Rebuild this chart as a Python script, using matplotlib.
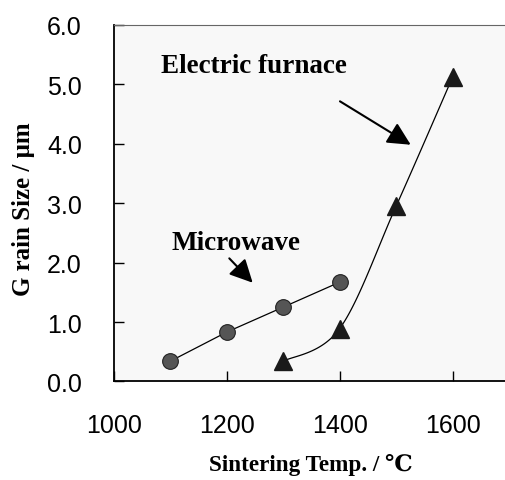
import matplotlib
matplotlib.use('Agg')
import matplotlib.pyplot as plt
import numpy as np

# data
temp_mw = [1100, 1200, 1300, 1400]
size_mw = [0.34, 0.83, 1.25, 1.67]
temp_ef = [1300, 1400, 1500, 1600]
size_ef = [0.34, 0.89, 2.95, 5.12]

x_ticks = [1000, 1200, 1400, 1600]
y_ticks = [0.0, 1.0, 2.0, 3.0, 4.0, 5.0, 6.0]

serif = ['Liberation Serif', 'DejaVu Serif']
sans = ['Liberation Sans', 'DejaVu Sans']


def smooth(xs, ys, n=40):
    # excel-like smoothed line: cubic bezier with catmull-rom control points
    p = np.column_stack([xs, ys]).astype(float)
    scale = np.array([1 / 200.0 * 113.0, 59.5])
    p = p * scale
    out = []
    for i in range(len(p) - 1):
        p0 = p[i - 1] if i > 0 else p[i]
        p1 = p[i]
        p2 = p[i + 1]
        p3 = p[i + 2] if i + 2 < len(p) else p[i + 1]
        c1 = p1 + (p2 - p0) / 6.0
        c2 = p2 - (p3 - p1) / 6.0
        t = np.linspace(0, 1, n)[:, None]
        seg = (1 - t) ** 3 * p1 + 3 * (1 - t) ** 2 * t * c1 + 3 * (1 - t) * t ** 2 * c2 + t ** 3 * p2
        out.append(seg)
    out = np.vstack(out) / scale
    return out[:, 0], out[:, 1]


fig = plt.figure(figsize=(5.06, 4.81), dpi=100)
ax = fig.add_axes([0.2247, 0.2048, 0.7816, 0.742])
ax.set_facecolor('#F8F8F8')

ax.plot(temp_mw, size_mw, color='black', lw=0.9, zorder=2)
ax.plot(temp_mw, size_mw, 'o', ms=11.3, mfc='#555555', mec='#222222', mew=0.8, zorder=3)

sx, sy = smooth(temp_ef, size_ef)
ax.plot(sx, sy, color='black', lw=0.9, zorder=2)
ax.plot(temp_ef, size_ef, '^', ms=12.5, mfc='#1a1a1a', mec='#1a1a1a', zorder=3)

ax.set_xlim(1000, 1700)
ax.set_ylim(0, 6)
ax.set_xticks(x_ticks)
ax.set_yticks(y_ticks)
ax.set_yticklabels([f'{v:.1f}' for v in y_ticks])
ax.tick_params(direction='in', length=7, width=1, pad=23, labelsize=18)
for lab in ax.get_xticklabels() + ax.get_yticklabels():
    lab.set_family(sans)

ax.spines['right'].set_visible(False)
ax.spines['top'].set_color('#666666')
ax.spines['left'].set_linewidth(1.3)
ax.spines['bottom'].set_linewidth(1.3)

ax.set_xlabel('Sintering Temp. / ℃', family=serif, fontweight='bold', fontsize=16.7)
ax.set_ylabel('G rain Size / μm', family=serif, fontweight='bold', fontsize=18)
ax.xaxis.set_label_coords(0.4976, -0.231)
ax.yaxis.set_label_coords(-0.227, 0.486)
ax.xaxis.label.set_va('center')
ax.yaxis.label.set_va('center')

arrow = dict(arrowstyle='-|>,head_length=0.7,head_width=0.35', color='black',
             lw=1.5, shrinkA=0, shrinkB=0, mutation_scale=20)
ax.text(1083, 5.32, 'Electric furnace', family=serif, fontweight='bold',
        fontsize=19.5, ha='left', va='center')
ax.annotate('', xy=(1525.7, 3.98), xytext=(1400.5, 4.71), arrowprops=arrow)
ax.text(1103, 2.34, 'Microwave', family=serif, fontweight='bold',
        fontsize=19.5, ha='left', va='center')
ax.annotate('', xy=(1246, 1.66), xytext=(1204.6, 2.07), arrowprops=arrow)

fig.savefig('out.png', dpi=100)
